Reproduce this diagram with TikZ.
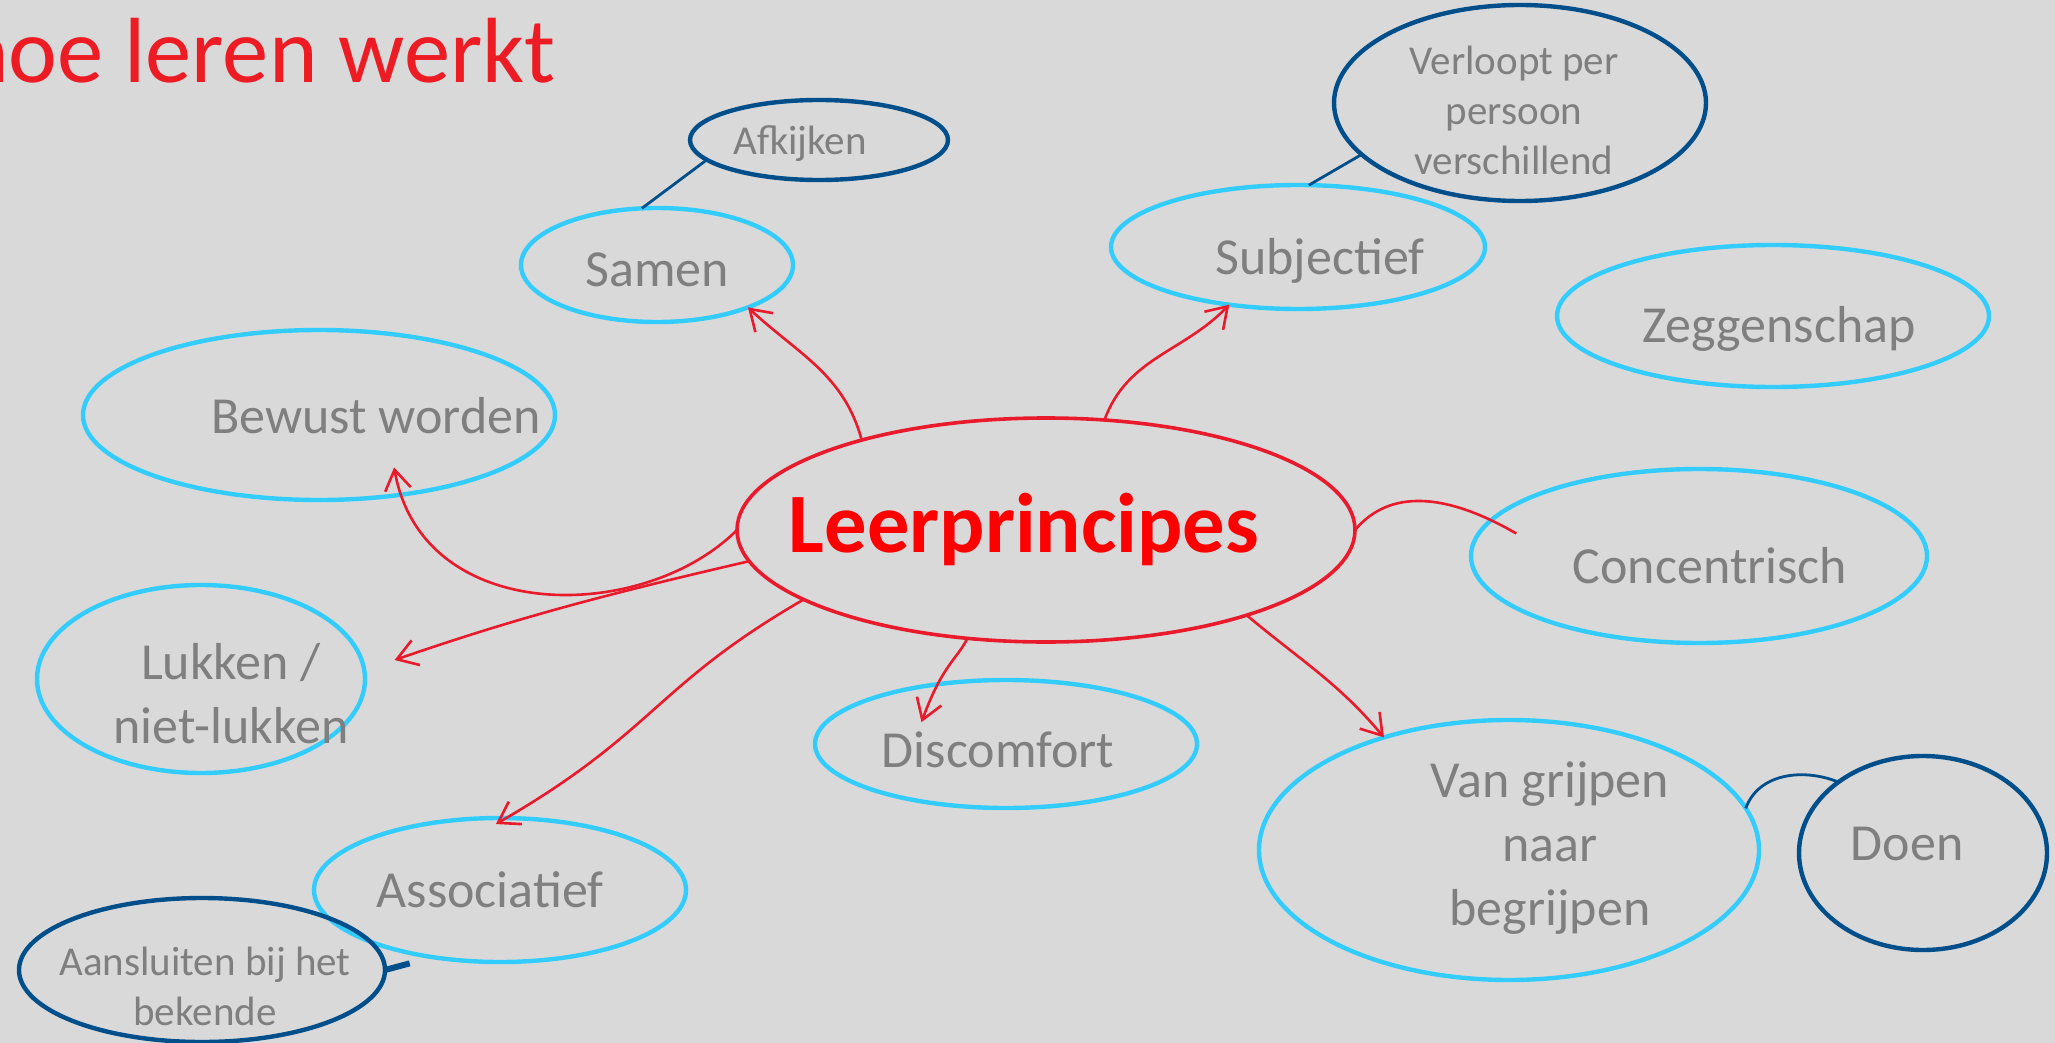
\documentclass[tikz,border=0pt]{standalone}
\usepackage{fontspec}
\setmainfont{Carlito}
\usetikzlibrary{shapes.geometric,arrows.meta}
\definecolor{cd9d9d9}{RGB}{217,217,217}
\definecolor{c33ccff}{RGB}{51,204,255}
\definecolor{c004f8a}{RGB}{0,79,138}
\definecolor{ce81a2b}{RGB}{232,26,43}
\definecolor{cff0000}{RGB}{255,0,0}
\definecolor{ced1c24}{RGB}{237,28,36}
\definecolor{c7f7f7f}{RGB}{127,127,127}
\tikzset{
  bubble/.style={ellipse,draw=c33ccff,line width=2.2pt},
  subbubble/.style={ellipse,draw=c004f8a,line width=2.2pt},
  lbl/.style={text=c7f7f7f,align=center,font=\fontsize{26}{32}\selectfont},
  sublbl/.style={text=c7f7f7f,align=center,font=\fontsize{20.5}{25}\selectfont},
  ink/.style={draw=ce81a2b,line width=1.3pt,-{Straight Barb[length=10pt,width=13pt]}},
  sublink/.style={draw=c004f8a,line width=1.4pt}
}

\begin{document}
\begin{tikzpicture}[x=0.5pt,y=-0.5pt,inner sep=0pt,outer sep=0pt]
  \useasboundingbox (0,0) rectangle (2055,1043);
  \path[fill=cd9d9d9] (0,0) rectangle (2055,1043);
  \path (555,83) node[anchor=base east,text=ced1c24,font=\fontsize{46.3}{56}\selectfont]
    (title) {hoe leren werkt};

  \path (1046,530) node[ellipse,draw=ce81a2b,line width=1.8pt,minimum width=309pt,
    minimum height=112pt] (leer) {};
  \path (1024,552) node[anchor=base,text=cff0000,font=\fontsize{42.3}{50}\selectfont\bfseries]
    (leer-text) {Leerprincipes};

  \path (657,265) node[bubble,minimum width=136pt,minimum height=57pt] (samen) {};
  \path (657,286) node[lbl,anchor=base] (samen-text) {Samen};
  \path (819,140) node[subbubble,minimum width=129pt,minimum height=40pt] (afk) {};
  \path (800,155) node[sublbl,anchor=base] (afk-text) {Afkijken};
  \path (319,415) node[bubble,minimum width=236pt,minimum height=85pt] (bew) {};
  \path (376,433) node[lbl,anchor=base] (bew-text) {Bewust worden};
  \path (1298,247) node[bubble,minimum width=187pt,minimum height=62pt] (subj) {};
  \path (1320,275) node[lbl,anchor=base] (subj-text) {Subjectief};
  \path (1520,103) node[subbubble,minimum width=186pt,minimum height=98pt] (verl) {};
  \path (1514,110) node[sublbl] (verl-text) {Verloopt per\\persoon\\verschillend};
  \path (1773,316) node[bubble,minimum width=216pt,minimum height=71pt] (zeg) {};
  \path (1779,342) node[lbl,anchor=base] (zeg-text) {Zeggenschap};
  \path (1699,556) node[bubble,minimum width=228pt,minimum height=87pt] (conc) {};
  \path (1710,583) node[lbl,anchor=base] (conc-text) {Concentrisch};
  \path (1006,744) node[bubble,minimum width=191pt,minimum height=64pt] (disc) {};
  \path (998,767) node[lbl,anchor=base] (disc-text) {Discomfort};
  \path (1509,850) node[bubble,minimum width=250pt,minimum height=130pt] (vg) {};
  \path (1550,848) node[lbl] (vg-text) {Van grijpen\\naar\\begrijpen};
  \path (1923,853) node[subbubble,minimum width=124pt,minimum height=97pt] (doen) {};
  \path (1907,860) node[lbl,anchor=base] (doen-text) {Doen};
  \path (201,679) node[bubble,minimum width=164pt,minimum height=94pt] (luk) {};
  \path (231,694) node[lbl] (luk-text) {Lukken /\\niet-lukken};
  \path (500,890) node[bubble,minimum width=186pt,minimum height=72pt] (assoc) {};
  \path (490,907) node[lbl,anchor=base] (assoc-text) {Associatief};
  \path (202,970) node[subbubble,minimum width=183pt,minimum height=72pt] (aans) {};
  \path (205,986) node[sublbl] (aans-text) {Aansluiten bij het\\bekende};

  \path[ink] (leer.154) to[out=105,in=-43] (samen.-25);
  \path[ink] (leer.62) to[out=70,in=-134] (subj.-140);
  \path[draw=ce81a2b,line width=1.3pt,shorten >=-14pt] (leer.0) to[out=50,in=150] (conc.170);
  \path[ink] (leer.-23) to[out=-40,in=130] (vg.138);
  \path[ink,shorten >=-20pt] (leer.-126) to[out=-115,in=70] (disc.140);
  \path[ink,shorten >=-6pt] (leer.-164) to[out=-150,in=30,looseness=1.2] (assoc.85);
  \path[ink,shorten >=16pt] (leer.-174) to[out=-167,in=19] (luk.3);
  \path[ink,shorten >=-14pt] (leer.180) to[out=-135,in=-80] (bew.-45);

  \path[sublink] (samen.105) -- (afk.-170);
  \path[sublink] (subj.80) -- (verl.-162);
  \path[sublink] (vg.10) to[out=70,in=158] (doen.140);
  \path[sublink,line width=3pt,shorten >=12pt] (aans.0) -- (assoc.-135);
\end{tikzpicture}
\end{document}
